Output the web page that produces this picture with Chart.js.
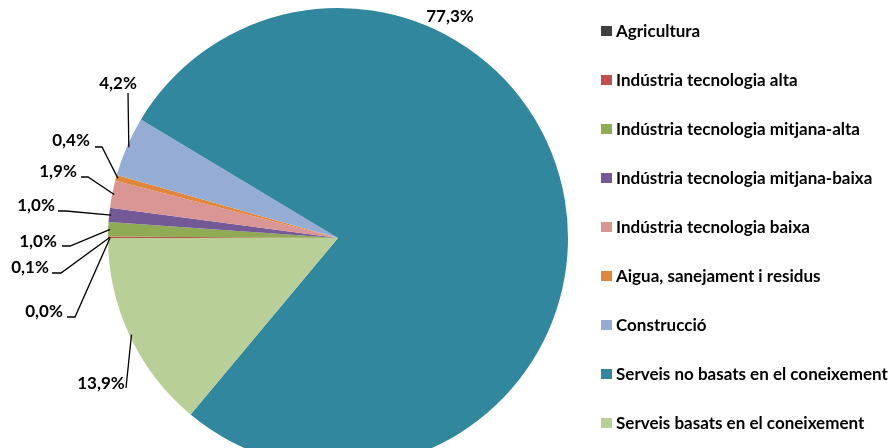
<!DOCTYPE html>
<html>
<head>
<meta charset="utf-8">
<script src="https://cdn.jsdelivr.net/npm/chart.js@4/dist/chart.umd.min.js"></script>
<style>
  html, body { margin: 0; padding: 0; background: #fff; overflow: hidden; }
  #wrap { width: 893px; height: 480px; position: relative; }
</style>
</head>
<body>
<div id="wrap"><canvas id="myChart"></canvas></div>
<script>
const sectors = [
  'Agricultura',
  'Indústria tecnologia alta',
  'Indústria tecnologia mitjana-alta',
  'Indústria tecnologia mitjana-baixa',
  'Indústria tecnologia baixa',
  'Aigua, sanejament i residus',
  'Construcció',
  'Serveis no basats en el coneixement',
  'Serveis basats en el coneixement'
];
const shares = [0.0, 0.1, 1.0, 1.0, 1.9, 0.4, 4.2, 77.3, 13.9];
const colors = ['#3f3f3f', '#c0504d', '#8fac55', '#735a96', '#d99694', '#e0873d', '#95add5', '#31889e', '#b9cf98'];

// label text centre + leader line path (text side first), in page pixels
const labelBoxes = [
  { x: 44, y: 312, line: [[67, 317], [75, 317]] },
  { x: 30, y: 268, line: [[52, 273], [61, 273]] },
  { x: 38, y: 242, line: [[62, 246], [70, 246]] },
  { x: 36, y: 206, line: [[58, 211], [66, 211]] },
  { x: 58, y: 172, line: [[81, 177], [88, 177]] },
  { x: 71, y: 141, line: [[95, 147], [102, 147]] },
  { x: 118, y: 84, line: [[128, 93]] },
  { x: 450, y: 17, line: null },
  { x: 101, y: 384, line: [[126, 388]] }
];

function fmt(v) {
  return v.toFixed(1).replace('.', ',') + '%';
}

const pieLabels = {
  id: 'pieLabels',
  afterDraw(chart) {
    const ctx = chart.ctx;
    const arcs = chart.getDatasetMeta(0).data;
    ctx.save();
    ctx.font = 'bold 17px Lato';
    ctx.fillStyle = '#000';
    ctx.textAlign = 'center';
    ctx.textBaseline = 'middle';
    arcs.forEach((arc, i) => {
      const box = labelBoxes[i];
      if (box.line) {
        const mid = (arc.startAngle + arc.endAngle) / 2;
        const r = arc.outerRadius - 2;
        const ax = arc.x + Math.cos(mid) * r;
        const ay = arc.y + Math.sin(mid) * r;
        ctx.beginPath();
        ctx.strokeStyle = '#000';
        ctx.lineWidth = 1.3;
        ctx.moveTo(box.line[0][0], box.line[0][1]);
        for (let k = 1; k < box.line.length; k++) ctx.lineTo(box.line[k][0], box.line[k][1]);
        ctx.lineTo(ax, ay);
        ctx.stroke();
      }
      ctx.fillText(fmt(shares[i]), box.x, box.y);
    });

    // legend
    ctx.textAlign = 'left';
    sectors.forEach((name, i) => {
      const y = 31 + i * 49;
      ctx.fillStyle = colors[i];
      ctx.fillRect(601, y - 5, 11, 10);
      ctx.fillStyle = '#000';
      ctx.fillText(name, 616, y + 1);
    });
    ctx.restore();
  }
};

const ctx = document.getElementById('myChart').getContext('2d');
new Chart(ctx, {
  type: 'pie',
  data: {
    labels: sectors,
    datasets: [{
      data: shares,
      backgroundColor: colors,
      borderWidth: 0
    }]
  },
  options: {
    responsive: true,
    maintainAspectRatio: false,
    animation: false,
    rotation: 270,
    layout: { padding: { left: 108, right: 325, top: 8, bottom: 12 } },
    plugins: {
      legend: { display: false },
      tooltip: { enabled: false }
    }
  },
  plugins: [pieLabels]
});
</script>
</body>
</html>
